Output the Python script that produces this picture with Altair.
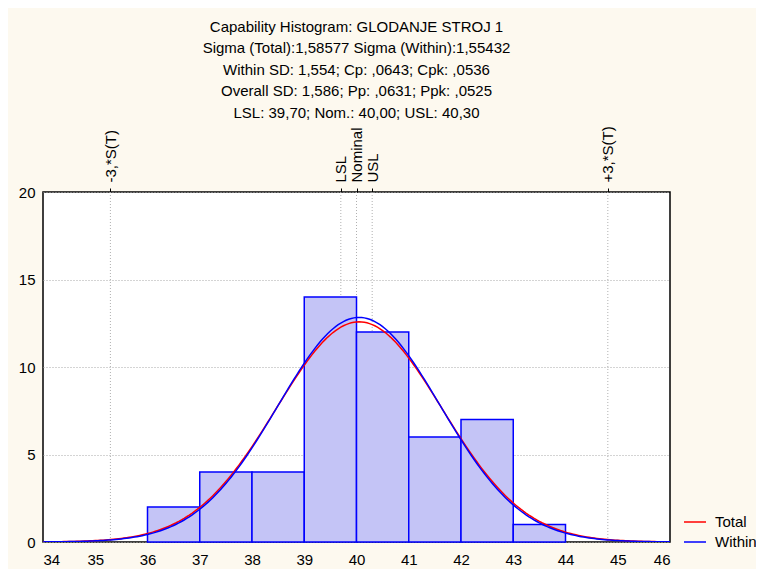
import altair as alt
import pandas as pd

# ---- data ----
bin_lo = [36, 37, 38, 39, 40, 41, 42, 43]
bin_hi = [37, 38, 39, 40, 41, 42, 43, 44]
counts = [2, 4, 4, 14, 12, 6, 7, 1]

n_obs = 50
mean = 40.05
sd_total = 1.58577
sd_within = 1.55432

marker_names = ["-3,*S(T)", "LSL", "Nominal", "USL", "+3,*S(T)"]
marker_pos = [35.29, 39.70, 40.00, 40.30, 44.81]

title_lines = [
    "Capability Histogram: GLODANJE STROJ 1",
    "Sigma (Total):1,58577 Sigma (Within):1,55432",
    "Within SD: 1,554; Cp: ,0643; Cpk: ,0536",
    "Overall SD: 1,586; Pp: ,0631; Ppk: ,0525",
    "LSL: 39,70; Nom.: 40,00; USL: 40,30",
]

FONT = "Liberation Sans"

bars_df = pd.DataFrame({"lo": bin_lo, "hi": bin_hi, "count": counts})
markers_df = pd.DataFrame({"name": marker_names, "pos": marker_pos})

xscale = alt.Scale(domain=[34, 46], nice=False, zero=False)
yscale = alt.Scale(domain=[0, 20], nice=False)

yaxis = alt.Axis(values=[0, 5, 10, 15, 20], grid=True,
                 gridDash=[1, 2], gridColor="#a8a8a8",
                 ticks=False, domain=False, labelPadding=8,
                 labelFontSize=15, labelFont=FONT, labelColor="black")

label_expr = " : ".join(
    f"datum.value == {p} ? '{n}'" for n, p in zip(marker_names, marker_pos)
) + " : ''"

bars = alt.Chart(bars_df).mark_rect(
    fill="#c4c4f6", stroke="#0000ff", strokeWidth=1.5
).encode(
    x=alt.X("lo:Q", scale=xscale, title=None,
            axis=alt.Axis(orient="bottom", values=list(range(34, 47)),
                          grid=False, ticks=False, domain=False,
                          labelPadding=10, labelFontSize=15, labelFont=FONT,
                          labelColor="black")),
    x2="hi:Q",
    y=alt.Y("count:Q", scale=yscale, title=None, axis=yaxis),
    y2=alt.datum(0),
)

k = 1 / (2.5066282746)
curves = alt.Chart(alt.sequence(34, 46.001, 0.05, as_="x")).transform_calculate(
    Total=f"{n_obs}*{k}/{sd_total}*exp(-0.5*pow((datum.x-{mean})/{sd_total},2))",
    Within=f"{n_obs}*{k}/{sd_within}*exp(-0.5*pow((datum.x-{mean})/{sd_within},2))",
).transform_fold(["Total", "Within"], as_=["series", "val"]).mark_line(
    strokeWidth=1.5, clip=True
).encode(
    x=alt.X("x:Q", scale=xscale, axis=None),
    y=alt.Y("val:Q", scale=yscale, title=None, axis=yaxis),
    color=alt.Color(
        "series:N",
        scale=alt.Scale(domain=["Total", "Within"], range=["#ff0000", "#0000ff"]),
        legend=alt.Legend(
            title=None, orient="none", legendX=640, legendY=318,
            symbolType="stroke", symbolSize=484, symbolStrokeWidth=1.5,
            labelFontSize=15, labelFont=FONT, labelColor="black",
            labelOffset=8, rowPadding=0,
        ),
    ),
    order=alt.Order("series:N"),
)

markers = alt.Chart(markers_df).mark_rule(
    color="#b0b0b0", strokeDash=[1, 2], strokeWidth=1
).encode(
    x=alt.X("pos:Q", scale=xscale, title=None,
            axis=alt.Axis(orient="top", values=marker_pos, labelExpr=label_expr,
                          labelAngle=-90, labelFontSize=15, labelFont=FONT,
                          labelColor="black", grid=False, domain=False,
                          ticks=True, tickSize=4, tickColor="black",
                          labelPadding=6, labelOverlap=False,
                          labelBound=False, labelFlush=False)),
)

chart = alt.layer(markers, bars, curves).resolve_axis(x="independent").properties(
    width=627,
    height=350,
    autosize=alt.AutoSizeParams(type="none"),
    padding={"left": 35, "top": 184, "right": 86, "bottom": 27},
    title=alt.TitleParams(
        text=title_lines, fontSize=15, font=FONT, fontWeight="normal",
        lineHeight=21.5, anchor="middle", offset=5, color="black",
    ),
).configure(
    background="#fdf9ef",
).configure_view(
    fill="white", stroke="black", strokeWidth=1.5,
)

chart.save("out.html", embed_options={"renderer": "svg", "actions": False})
